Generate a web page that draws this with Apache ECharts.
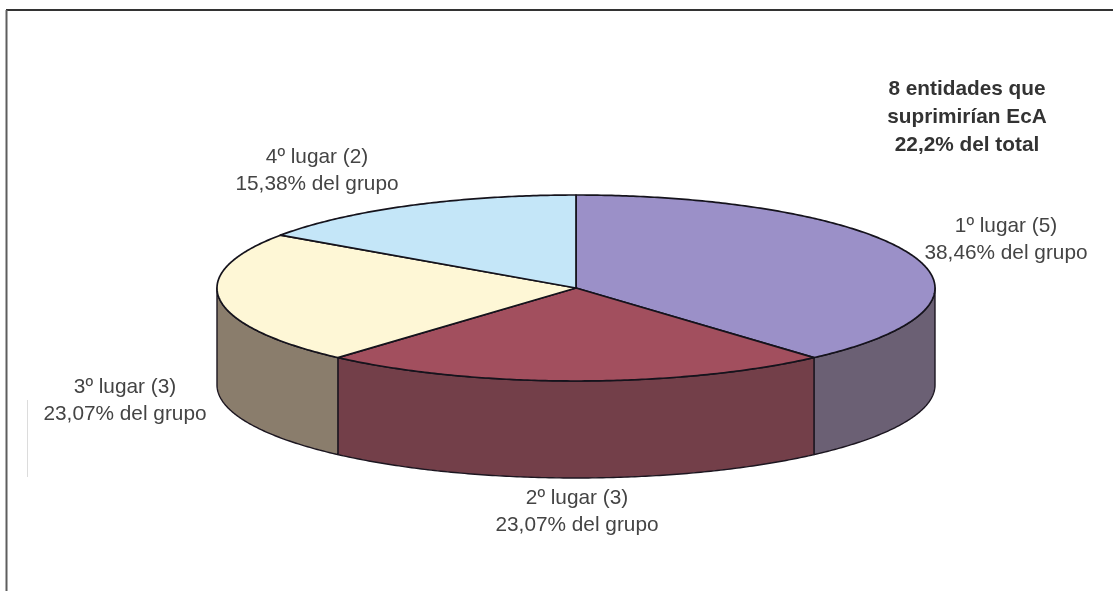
<!DOCTYPE html>
<html>
<head>
<meta charset="utf-8">
<style>html,body{margin:0;padding:0;background:#fff}#c{width:1113px;height:591px}</style>
<script src="https://cdn.jsdelivr.net/npm/echarts@6/dist/echarts.min.js"></script>
</head>
<body>
<div id="c"></div>
<script>
const categories = ['1º lugar (5)', '2º lugar (3)', '3º lugar (3)', '4º lugar (2)'];
const values = [38.46, 23.07, 23.07, 15.38];
const topColors = ['#9B90C8', '#A24F5E', '#FEF7D6', '#C4E6F8'];
const sideColors = ['#6B6074', '#733F49', '#8A7D6C', '#6A7C86'];
const titleLines = ['8 entidades que', 'suprimirían EcA', '22,2% del total'];

const layout = { cx: 576, cy: 288, rx: 359, ry: 93, depth: 97 };
const labelAt = [[1006, 240], [577, 512], [125, 401], [317, 171]];
const FONT = '"Liberation Sans", Arial, sans-serif';
const total = values.reduce((a, b) => a + b, 0);
const starts = [];
values.reduce((acc, v, i) => { starts[i] = acc; return acc + v; }, 0);

const pt = (t, dy) => [
  layout.cx + layout.rx * Math.sin(t),
  layout.cy - layout.ry * Math.cos(t) + (dy || 0)
];
function arc(a, b, dy) {
  const n = Math.max(2, Math.ceil((b - a) / 0.01));
  const out = [];
  for (let i = 0; i <= n; i++) out.push(pt(a + (b - a) * i / n, dy));
  return out;
}

function renderSlice(params, api) {
  const i = params.dataIndex;
  const a = starts[i] / total * 2 * Math.PI;
  const b = (starts[i] + api.value(0)) / total * 2 * Math.PI;
  const children = [];
  const fa = Math.max(a, Math.PI / 2), fb = Math.min(b, 3 * Math.PI / 2);
  if (fb > fa) {
    const upper = arc(fa, fb, 0);
    const lower = arc(fa, fb, layout.depth).reverse();
    children.push({
      type: 'polygon',
      shape: { points: upper.concat(lower) },
      style: { fill: sideColors[i], stroke: '#1c1620', lineWidth: 1.4, lineJoin: 'round' }
    });
  }
  children.push({
    type: 'polygon',
    shape: { points: [[layout.cx, layout.cy]].concat(arc(a, b, 0)) },
    style: { fill: topColors[i], stroke: '#15131c', lineWidth: 1.7, lineJoin: 'round' }
  });
  const pct = values[i].toFixed(2).replace('.', ',') + '% del grupo';
  children.push({
    type: 'text',
    style: {
      x: labelAt[i][0], y: labelAt[i][1],
      text: categories[i] + '\n' + pct,
      fill: '#444444', font: '20.8px ' + FONT, lineHeight: 27,
      align: 'center', verticalAlign: 'middle'
    }
  });
  return { type: 'group', children };
}

const chart = echarts.init(document.getElementById('c'), null, { renderer: 'canvas' });
chart.setOption({
  animation: false,
  backgroundColor: '#ffffff',
  tooltip: { show: false },
  graphic: [
    { type: 'line', shape: { x1: 6, y1: 10, x2: 1113, y2: 10 }, style: { stroke: '#333333', lineWidth: 2 } },
    { type: 'line', shape: { x1: 6.5, y1: 10, x2: 6.5, y2: 591 }, style: { stroke: '#5e5e5e', lineWidth: 2 } },
    { type: 'line', shape: { x1: 27.5, y1: 400, x2: 27.5, y2: 477 }, style: { stroke: '#dcdcdc', lineWidth: 1 } },
    {
      type: 'text',
      style: {
        x: 967, y: 117, text: titleLines.join('\n'),
        fill: '#333333', font: 'bold 20.8px ' + FONT, lineHeight: 28,
        align: 'center', verticalAlign: 'middle'
      }
    }
  ],
  series: [{
    type: 'custom',
    coordinateSystem: 'none',
    silent: true,
    data: values.map(v => [v]),
    renderItem: renderSlice
  }]
});
</script>
</body>
</html>
